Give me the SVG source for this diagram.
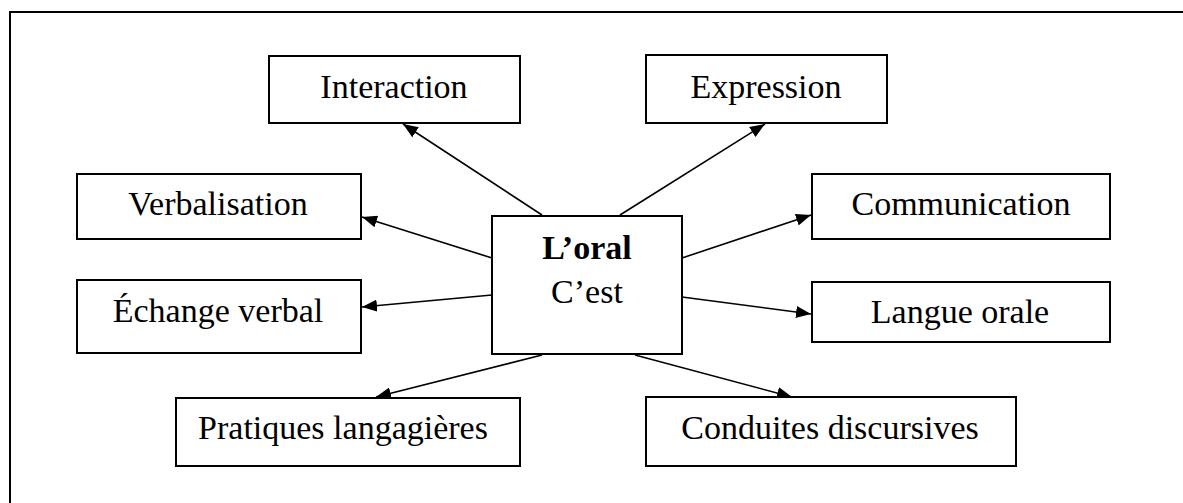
<svg xmlns="http://www.w3.org/2000/svg" width="1183" height="503" viewBox="0 0 1183 503">
<style>
.box{fill:#fff;stroke:#000;stroke-width:2}
.t{font-family:"Liberation Serif","Times New Roman",serif;font-size:34px;fill:#000;text-anchor:middle}
.b{font-weight:bold}
.c{stroke:#000;stroke-width:1.6;fill:none;marker-end:url(#ah)}
</style>
<defs>
<marker id="ah" markerUnits="userSpaceOnUse" markerWidth="16" markerHeight="12" refX="15" refY="6" orient="auto">
<path d="M0,0 L15,6 L0,12 z" fill="#000"/>
</marker>
</defs>
<rect width="1183" height="503" fill="#fff"/>
<path d="M10,503 V12 H1183" fill="none" stroke="#000" stroke-width="2"/>
<g id="connectors">
<line class="c" x1="542" y1="215" x2="403" y2="124"/>
<line class="c" x1="620" y1="215" x2="765" y2="124"/>
<line class="c" x1="492" y1="258" x2="362" y2="217"/>
<line class="c" x1="492" y1="295" x2="362" y2="307"/>
<line class="c" x1="682" y1="258" x2="811" y2="215"/>
<line class="c" x1="682" y1="297" x2="811" y2="314"/>
<line class="c" x1="542" y1="355" x2="376" y2="397"/>
<line class="c" x1="635" y1="355" x2="792" y2="397"/>
</g>
<g id="center">
<rect class="box" x="492" y="216" width="190" height="138"/>
<text class="t b" x="587" y="259">L’oral</text>
<text class="t" x="587" y="303">C’est</text>
</g>
<g id="interaction">
<rect class="box" x="269" y="56" width="251" height="67"/>
<text class="t" x="394" y="98">Interaction</text>
</g>
<g id="expression">
<rect class="box" x="646" y="55" width="241" height="68"/>
<text class="t" x="766" y="98">Expression</text>
</g>
<g id="verbalisation">
<rect class="box" x="77" y="174" width="284" height="65"/>
<text class="t" x="218" y="215">Verbalisation</text>
</g>
<g id="echange">
<rect class="box" x="77" y="280" width="284" height="73"/>
<text class="t" x="218" y="322">Échange verbal</text>
</g>
<g id="communication">
<rect class="box" x="812" y="174" width="298" height="65"/>
<text class="t" x="961" y="215">Communication</text>
</g>
<g id="langue">
<rect class="box" x="812" y="282" width="298" height="60"/>
<text class="t" x="960" y="323">Langue orale</text>
</g>
<g id="pratiques">
<rect class="box" x="176" y="398" width="344" height="68"/>
<text class="t" x="343" y="439">Pratiques langagières</text>
</g>
<g id="conduites">
<rect class="box" x="646" y="397" width="370" height="69"/>
<text class="t" x="830" y="439">Conduites discursives</text>
</g>
</svg>
